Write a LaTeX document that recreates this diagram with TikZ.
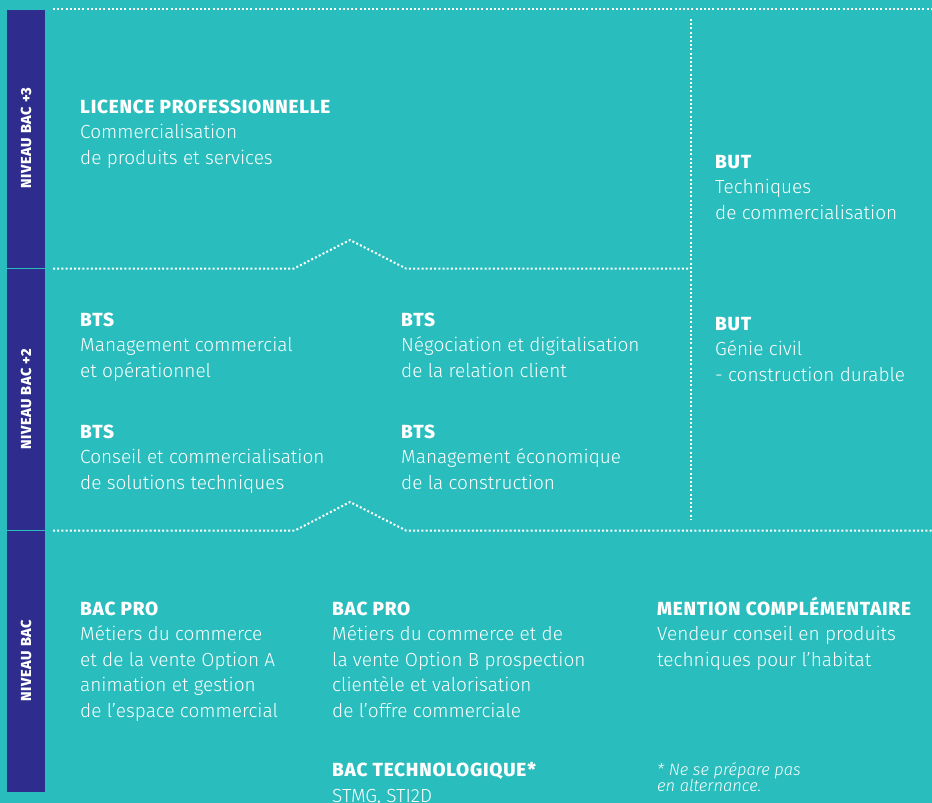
\documentclass[tikz,border=0pt]{standalone}
\usepackage{fontspec}
\setmainfont{Fira Sans}[UprightFont=* Light, BoldFont=* ExtraBold, BoldFeatures={LetterSpace=4}, ItalicFont=* Light Italic, BoldItalicFont=* ExtraBold Italic]
\definecolor{turquoise}{RGB}{41,189,189}
\definecolor{indigo}{RGB}{46,45,142}
\tikzset{
  niveau/.style={rotate=90, inner sep=0pt, text=white, font=\bfseries\fontsize{14.5}{14.5}\selectfont\addfontfeature{LetterSpace=6}},
  bloc/.style={anchor=base west, align=left, inner sep=0pt, text=white, font=\fontsize{19}{25.5}\selectfont},
  renvoi/.style={anchor=base west, align=left, inner sep=0pt, text=white, font=\itshape\fontsize{16.5}{16}\selectfont},
  pointilles/.style={white, line width=2pt, dash pattern=on 2pt off 2.2pt},
}

\begin{document}
\begin{tikzpicture}[x=1pt,y=1pt,yscale=-1,xscale=1]
\useasboundingbox (0,0) rectangle (932,803);
\fill[turquoise] (0,0) rectangle (932,803);

%Shape: bandeau des niveaux
\fill[indigo] (7,10) rectangle (45,792);
\draw[turquoise, line width=1pt] (7,268.5) -- (45,268.5);
\draw[turquoise, line width=1pt] (7,530.5) -- (45,530.5);

% Text Node
\node[niveau] (bac3) at (26,138) {NIVEAU BAC +3};
% Text Node
\node[niveau] (bac2) at (26,399.5) {NIVEAU BAC +2};
% Text Node
\node[niveau] (bac0) at (26,660.5) {NIVEAU BAC};

%Straight Lines: pointilles
\draw[pointilles] (53,9) -- (932,9);
\draw[pointilles] (53,268.5) -- (294,268.5) -- (350,240) -- (406,268.5) -- (688,268.5);
\draw[pointilles] (53,530.5) -- (295,530.5) -- (350,502) -- (406,530.5) -- (932,530.5);
\draw[pointilles] (691,19) -- (691,519);

% Text Node (ancre = ligne de base de la derniere ligne)
\node[bloc] (licence) at (80,164) {\textbf{LICENCE PROFESSIONNELLE}\\Commercialisation\\de produits et services};
% Text Node
\node[bloc] (butTC) at (715,219) {\textbf{BUT}\\Techniques\\de commercialisation};
% Text Node
\node[bloc] (btsMCO) at (80,377) {\textbf{BTS}\\Management commercial\\et opérationnel};
% Text Node
\node[bloc] (btsNDRC) at (401,377) {\textbf{BTS}\\Négociation et digitalisation\\de la relation client};
% Text Node
\node[bloc] (butGC) at (715,381) {\textbf{BUT}\\Génie civil\\- construction durable};
% Text Node
\node[bloc] (btsCCST) at (80,489) {\textbf{BTS}\\Conseil et commercialisation\\de solutions techniques};
% Text Node
\node[bloc] (btsMEC) at (401,489) {\textbf{BTS}\\Management économique\\de la construction};
% Text Node
\node[bloc] (bacproA) at (80,717) {\textbf{BAC PRO}\\Métiers du commerce\\et de la vente Option A\\animation et gestion\\de l’espace commercial};
% Text Node
\node[bloc] (bacproB) at (332,717) {\textbf{BAC PRO}\\Métiers du commerce et de\\la vente Option B prospection\\clientèle et valorisation\\de l’offre commerciale};
% Text Node
\node[bloc] (mention) at (657,666) {\textbf{MENTION COMPLÉMENTAIRE}\\Vendeur conseil en produits\\techniques pour l’habitat};
% Text Node
\node[bloc] (bactechno) at (332,802) {\textbf{BAC TECHNOLOGIQUE*}\\STMG, STI2D};
% Text Node
\node[renvoi] (note) at (657,791) {* Ne se prépare pas\\en alternance.};

\end{tikzpicture}
\end{document}
